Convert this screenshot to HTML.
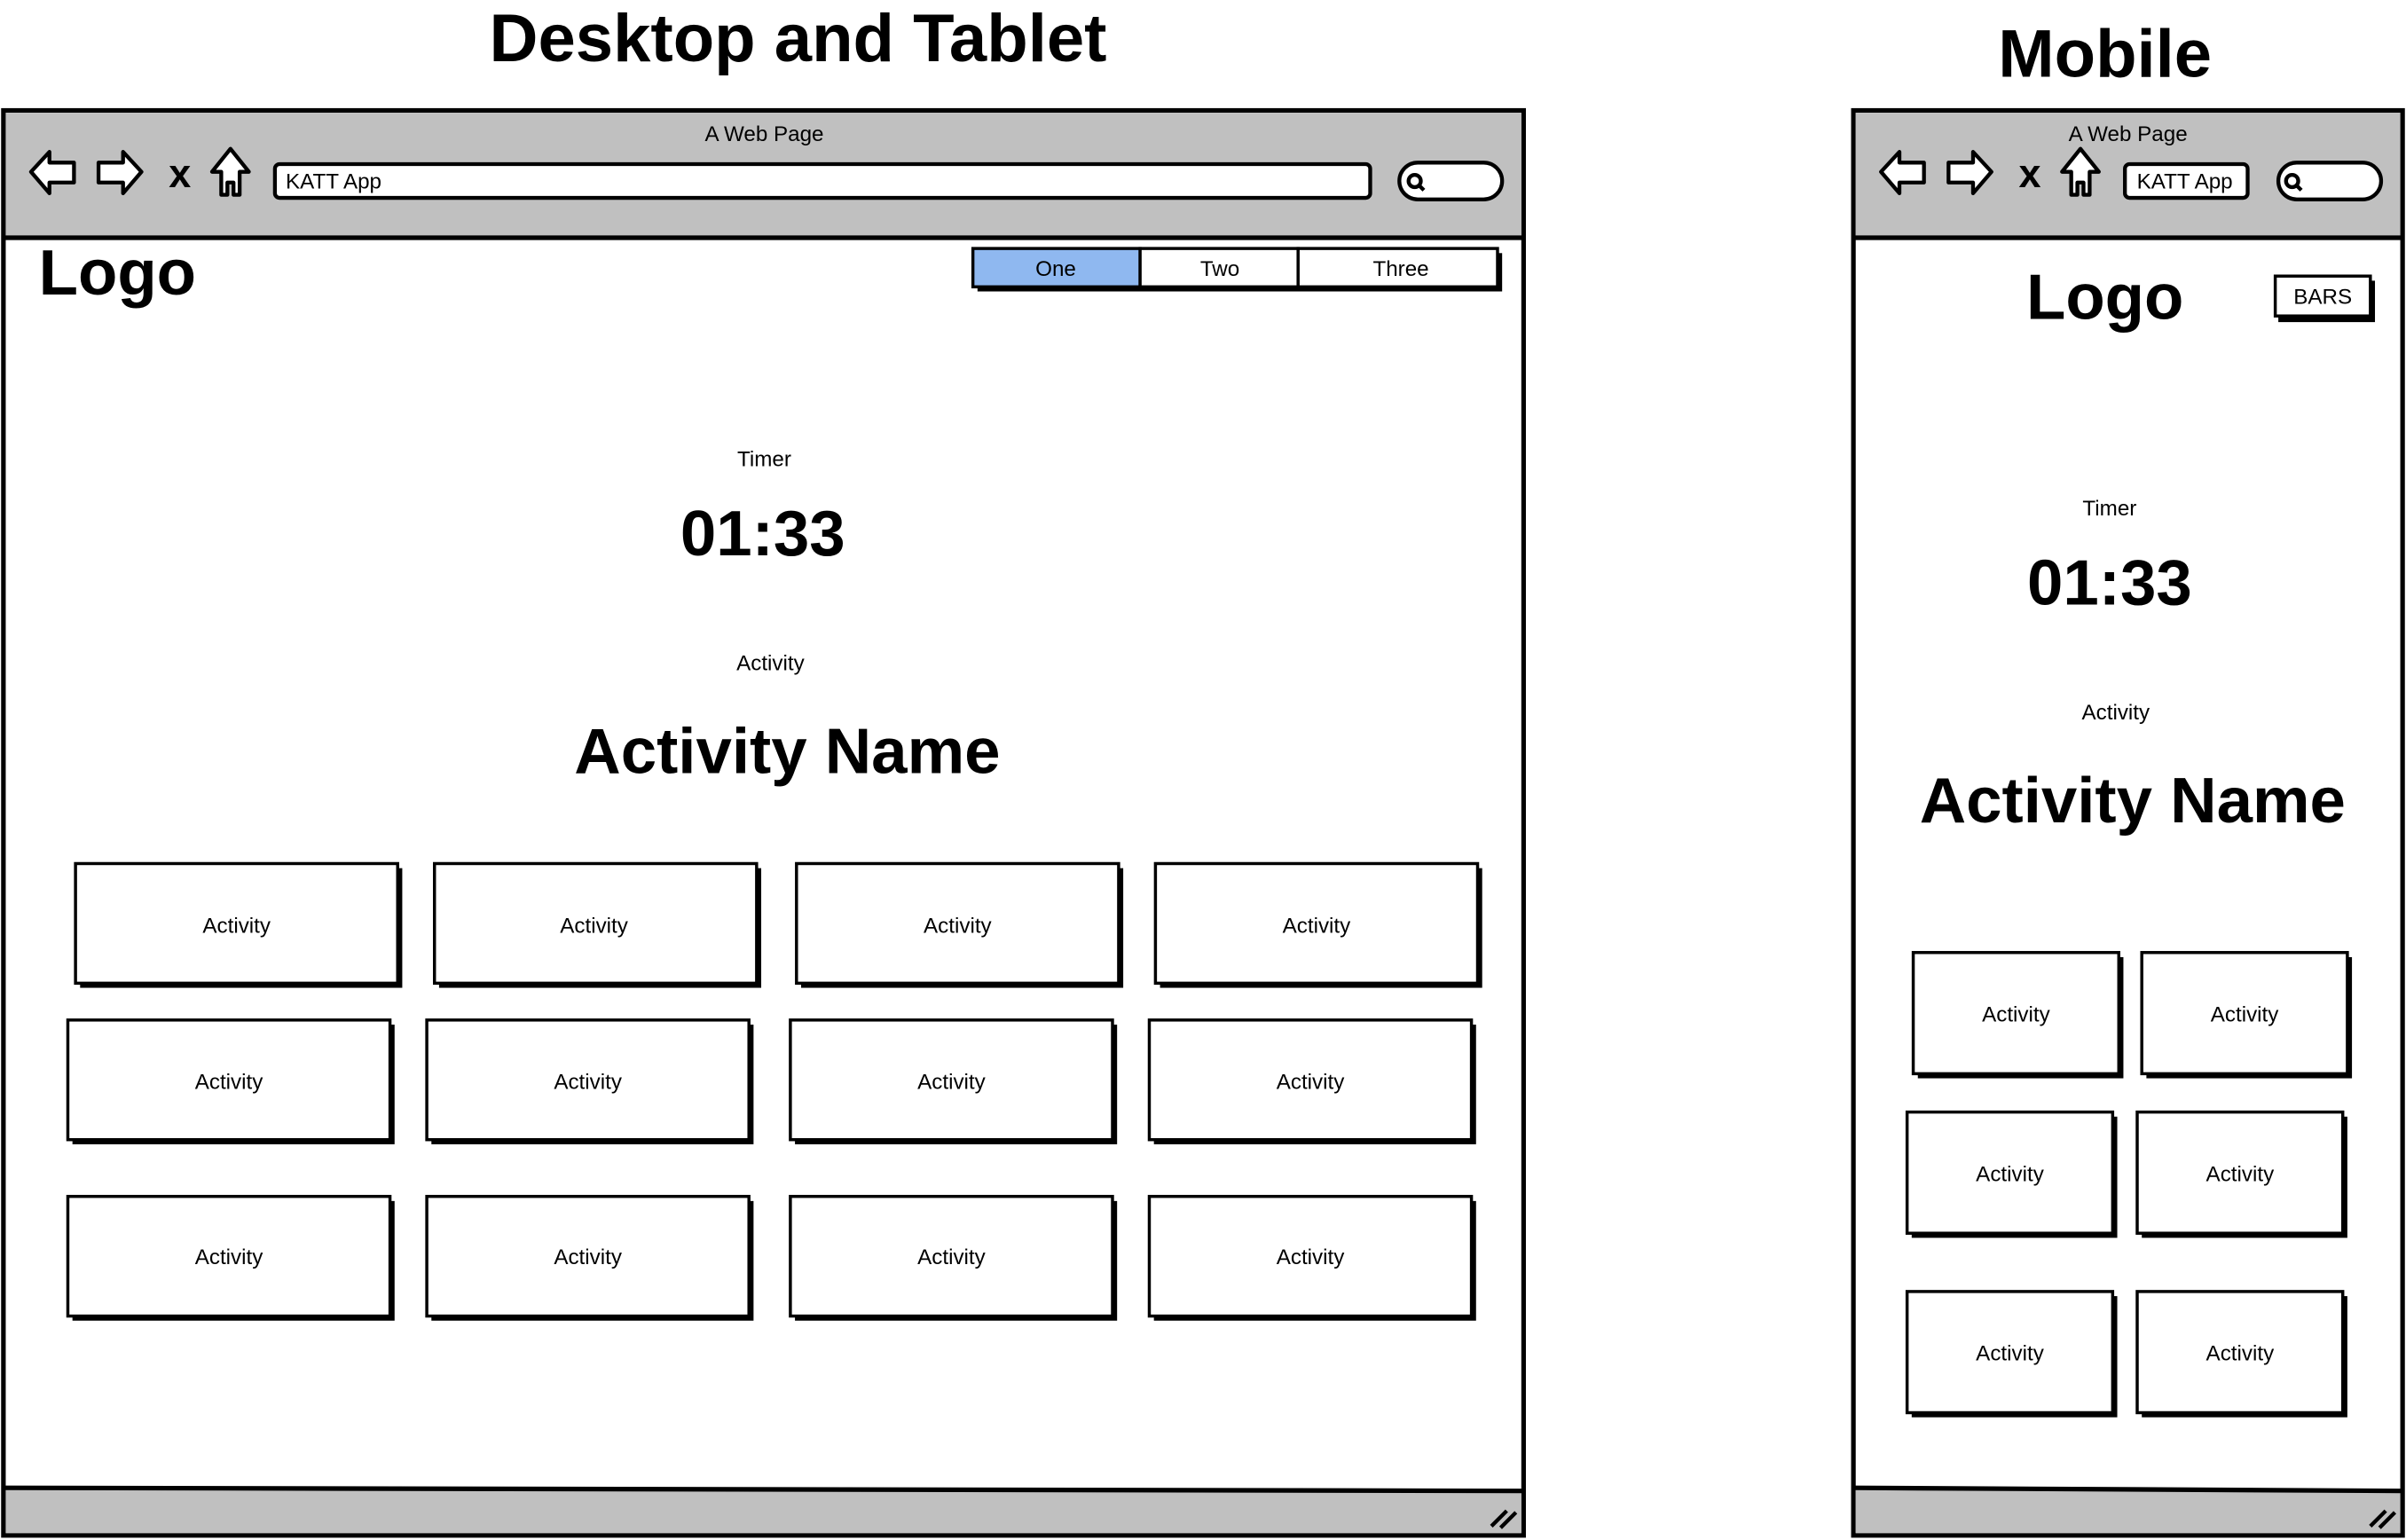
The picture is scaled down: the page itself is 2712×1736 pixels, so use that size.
<!DOCTYPE html>
<html><head><meta charset="utf-8"><style>
html,body{margin:0;padding:0;background:#fff;width:2712px;height:1736px;overflow:hidden}
svg{display:block}
text{font-family:"Liberation Sans",sans-serif;fill:#000}
</style></head><body>
<svg width="2712" height="1736" viewBox="0 0 1568 1004" xmlns="http://www.w3.org/2000/svg">
<defs>
<g id="box">
<rect x="3" y="3" width="210" height="78" fill="#000"/>
<rect x="0" y="0" width="210" height="78" fill="#fff" stroke="#000" stroke-width="2"/>
</g>
<g id="mbox">
<rect x="3" y="3" width="134" height="79" fill="#000"/>
<rect x="0" y="0" width="134" height="79" fill="#fff" stroke="#000" stroke-width="2"/>
</g>
</defs>
<text x="520" y="40" font-size="44" font-weight="bold" text-anchor="middle">Desktop and Tablet</text>
<text x="1372" y="50" font-size="44" font-weight="bold" text-anchor="middle">Mobile</text>

<!-- Desktop frame -->
<rect x="2" y="72" width="991" height="929" fill="#fff" stroke="#000" stroke-width="3"/>
<rect x="3.5" y="73.5" width="988" height="81" fill="#c0c0c0"/>
<line x1="2" y1="155" x2="993" y2="155" stroke="#000" stroke-width="3"/>
<rect x="3.5" y="971" width="988" height="28.5" fill="#c0c0c0"/>
<line x1="2" y1="970" x2="993" y2="972" stroke="#000" stroke-width="3"/>
<path d="M972 995 L982 985 M978 996 L988 986" stroke="#000" stroke-width="2.5"/>
<text x="498" y="92" font-size="14" text-anchor="middle">A Web Page</text>
<g stroke="#000" stroke-width="2.5" fill="#fff" stroke-linejoin="round">
<path d="M20 112 L32 99 L32 106 L48 106 L48 119 L32 119 L32 126 Z"/>
<path d="M92 112 L80 99 L80 106 L64 106 L64 119 L80 119 L80 126 Z"/>
<path d="M150 97 L162 112 L156 112 L156 127 L152 127 L152 119 L148 119 L148 127 L144 127 L144 112 L138 112 Z"/>
</g>
<text x="117" y="122" font-size="26" font-weight="bold" text-anchor="middle">x</text>
<rect x="179" y="107" width="714" height="22" rx="3" fill="#fff" stroke="#000" stroke-width="2.5"/>
<text x="186" y="123" font-size="14">KATT App</text>
<rect x="912" y="106" width="67" height="24" rx="12" fill="#fff" stroke="#000" stroke-width="2.5"/>
<circle cx="922" cy="118" r="4" fill="none" stroke="#000" stroke-width="2.5"/><line x1="925" y1="121" x2="928" y2="124" stroke="#000" stroke-width="2.5"/>

<text x="25" y="192" font-size="42" font-weight="bold">Logo</text>
<rect x="637" y="165" width="342" height="25" fill="#000"/>
<rect x="634" y="162" width="109" height="25" fill="#8fb8f0" stroke="#000" stroke-width="2"/>
<rect x="743" y="162" width="103" height="25" fill="#fff" stroke="#000" stroke-width="2"/>
<rect x="846" y="162" width="130" height="25" fill="#fff" stroke="#000" stroke-width="2"/>
<text x="688" y="180" font-size="14" text-anchor="middle">One</text>
<text x="795" y="180" font-size="14" text-anchor="middle">Two</text>
<text x="913" y="180" font-size="14" text-anchor="middle">Three</text>

<text x="498" y="304" font-size="14" text-anchor="middle">Timer</text>
<text x="497" y="362" font-size="42" font-weight="bold" text-anchor="middle">01:33</text>
<text x="502" y="437" font-size="14" text-anchor="middle">Activity</text>
<text x="513" y="504" font-size="42" font-weight="bold" text-anchor="middle">Activity Name</text>

<use href="#box" x="49" y="563"/><text x="154" y="608" font-size="14" text-anchor="middle">Activity</text>
<use href="#box" x="283" y="563"/><text x="387" y="608" font-size="14" text-anchor="middle">Activity</text>
<use href="#box" x="519" y="563"/><text x="624" y="608" font-size="14" text-anchor="middle">Activity</text>
<use href="#box" x="753" y="563"/><text x="858" y="608" font-size="14" text-anchor="middle">Activity</text>
<use href="#box" x="44" y="665"/><text x="149" y="710" font-size="14" text-anchor="middle">Activity</text>
<use href="#box" x="278" y="665"/><text x="383" y="710" font-size="14" text-anchor="middle">Activity</text>
<use href="#box" x="515" y="665"/><text x="620" y="710" font-size="14" text-anchor="middle">Activity</text>
<use href="#box" x="749" y="665"/><text x="854" y="710" font-size="14" text-anchor="middle">Activity</text>
<use href="#box" x="44" y="780"/><text x="149" y="824" font-size="14" text-anchor="middle">Activity</text>
<use href="#box" x="278" y="780"/><text x="383" y="824" font-size="14" text-anchor="middle">Activity</text>
<use href="#box" x="515" y="780"/><text x="620" y="824" font-size="14" text-anchor="middle">Activity</text>
<use href="#box" x="749" y="780"/><text x="854" y="824" font-size="14" text-anchor="middle">Activity</text>

<!-- Mobile frame -->
<rect x="1208" y="72" width="358" height="929" fill="#fff" stroke="#000" stroke-width="3"/>
<rect x="1209.5" y="73.5" width="355" height="81" fill="#c0c0c0"/>
<line x1="1208" y1="155" x2="1566" y2="155" stroke="#000" stroke-width="3"/>
<rect x="1209.5" y="971" width="355" height="28.5" fill="#c0c0c0"/>
<line x1="1208" y1="970" x2="1566" y2="972" stroke="#000" stroke-width="3"/>
<path d="M1545 995 L1555 985 M1551 996 L1561 986" stroke="#000" stroke-width="2.5"/>
<text x="1387" y="92" font-size="14" text-anchor="middle">A Web Page</text>
<g stroke="#000" stroke-width="2.5" fill="#fff" stroke-linejoin="round">
<path d="M1226 112 L1238 99 L1238 106 L1254 106 L1254 119 L1238 119 L1238 126 Z"/>
<path d="M1298 112 L1286 99 L1286 106 L1270 106 L1270 119 L1286 119 L1286 126 Z"/>
<path d="M1356 97 L1368 112 L1362 112 L1362 127 L1358 127 L1358 119 L1354 119 L1354 127 L1350 127 L1350 112 L1344 112 Z"/>
</g>
<text x="1323" y="122" font-size="26" font-weight="bold" text-anchor="middle">x</text>
<rect x="1385" y="107" width="80" height="22" rx="3" fill="#fff" stroke="#000" stroke-width="2.5"/>
<text x="1424" y="123" font-size="14" text-anchor="middle">KATT App</text>
<rect x="1485" y="106" width="67" height="24" rx="12" fill="#fff" stroke="#000" stroke-width="2.5"/>
<circle cx="1494" cy="118" r="4" fill="none" stroke="#000" stroke-width="2.5"/><line x1="1497" y1="121" x2="1500" y2="124" stroke="#000" stroke-width="2.5"/>

<text x="1372" y="208" font-size="42" font-weight="bold" text-anchor="middle">Logo</text>
<rect x="1485" y="183" width="63" height="27" fill="#000"/>
<rect x="1483" y="180" width="62" height="26" fill="#fff" stroke="#000" stroke-width="2"/>
<text x="1514" y="198" font-size="14" text-anchor="middle">BARS</text>

<text x="1375" y="336" font-size="14" text-anchor="middle">Timer</text>
<text x="1375" y="394" font-size="42" font-weight="bold" text-anchor="middle">01:33</text>
<text x="1379" y="469" font-size="14" text-anchor="middle">Activity</text>
<text x="1390" y="536" font-size="42" font-weight="bold" text-anchor="middle">Activity Name</text>

<use href="#mbox" x="1247" y="621"/><text x="1314" y="666" font-size="14" text-anchor="middle">Activity</text>
<use href="#mbox" x="1396" y="621"/><text x="1463" y="666" font-size="14" text-anchor="middle">Activity</text>
<use href="#mbox" x="1243" y="725"/><text x="1310" y="770" font-size="14" text-anchor="middle">Activity</text>
<use href="#mbox" x="1393" y="725"/><text x="1460" y="770" font-size="14" text-anchor="middle">Activity</text>
<use href="#mbox" x="1243" y="842"/><text x="1310" y="887" font-size="14" text-anchor="middle">Activity</text>
<use href="#mbox" x="1393" y="842"/><text x="1460" y="887" font-size="14" text-anchor="middle">Activity</text>
</svg>
</body></html>
